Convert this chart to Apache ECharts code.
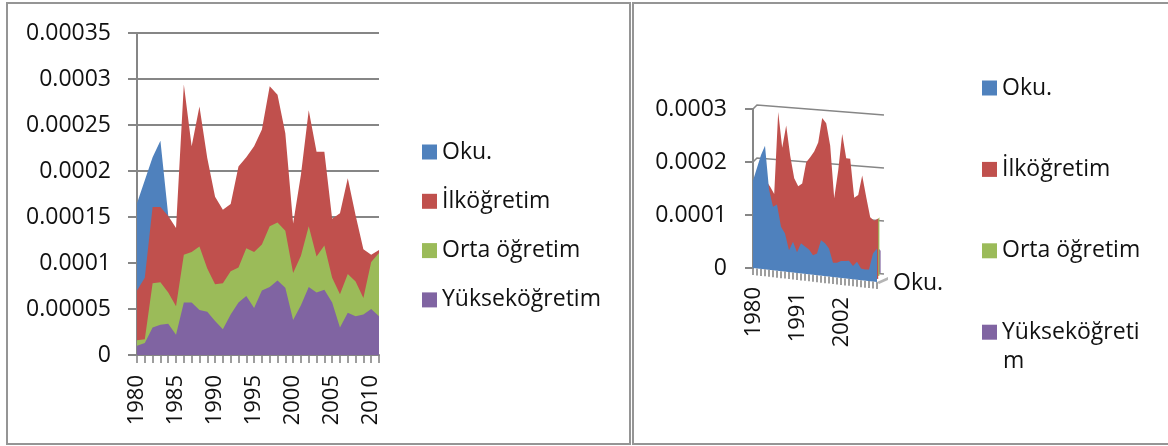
<!DOCTYPE html>
<html><head><meta charset="utf-8">
<style>html,body{margin:0;padding:0;background:#fff}#c{width:1168px;height:446px}</style>
<script src="https://cdn.jsdelivr.net/npm/echarts@6/dist/echarts.min.js"></script>
</head><body><div id="c"></div>
<script>
const years = [];
for (let y = 1980; y <= 2011; y++) years.push(y);
const names = ['Oku.', 'İlköğretim', 'Orta öğretim', 'Yükseköğretim'];
const colors = ['#4F81BD', '#C0504D', '#9BBB59', '#8064A2'];
// values in units of 1e-5
const oku = [16.5,19,21.5,23.3,15.2,12,12.5,8.4,7.2,4.1,5.8,3.9,5.7,5.15,4.7,3.7,4.1,6.7,6.2,5.3,2.7,2.8,3.2,3.3,3.4,2.5,3.4,2.2,2.1,2.2,5.3,6.3];
const ilk = [7.0,8.4,16.1,16.1,15.1,13.8,29.4,22.7,27.0,21.4,17.2,15.8,16.4,20.5,21.5,22.7,24.5,29.2,28.3,24.1,14.3,19.6,26.6,22.1,22.1,14.8,15.4,19.2,15.2,11.5,10.9,11.4];
const orta = [1.6,1.7,7.8,7.9,6.8,5.3,10.9,11.2,11.8,9.4,7.7,7.8,9.1,9.5,11.6,11.2,12.0,14.0,14.4,13.5,8.9,10.8,14.0,10.7,11.9,8.4,6.6,8.8,8.0,6.2,10.1,11.1];
const yuk = [1.0,1.3,3.0,3.3,3.4,2.2,5.7,5.7,4.9,4.7,3.7,2.8,4.4,5.7,6.4,5.1,7.0,7.4,8.1,7.3,3.8,5.4,7.4,6.8,7.1,5.7,3.0,4.6,4.2,4.4,5.0,4.2];
const seriesData = [oku, ilk, orta, yuk].map(a => a.map(v => +(v * 1e-5).toFixed(7)));
const rightGrid = [0,0.0001,0.0002,0.0003];
const rightLabels = ['1980','1991','2002'];
const FONT = 'Open Sans';
const INK = '#111';
const GREY = '#868686';
const BORDER = '#959595';

const fmt = v => v === 0 ? '0' : String(+v.toFixed(5));

const leftSeries = names.map((n,i) => ({
  name:n, type:'line', xAxisIndex:0, yAxisIndex:0, symbol:'none',
  silent:true, z:2+i,
  lineStyle:{width:0}, itemStyle:{color:colors[i]},
  areaStyle:{color:colors[i], opacity:1},
  data: years.map((y,k)=>[String(y),seriesData[i][k]])
}));

// perspective helpers for the sheared right-hand chart
const SLOPE = 14/31, DX = 1.2, DY = -3;
function shear(api, yr, v, row){
  const c = api.coord([String(yr), v]);
  const t = yr-1980;
  return [c[0]+row*DX, c[1]+t*SLOPE+row*DY];
}
function wall(api, yr, v){
  const c = api.coord([String(yr), v]);
  const t = (yr-1980)/31;
  return [c[0]+4+3*t, c[1]-4+10*t];
}
const rightSeries = names.map((n,i)=>({i,n})).reverse().map(({i,n})=>({
  name:n, type:'custom', xAxisIndex:1, yAxisIndex:1, silent:true, z:10-i, clip:false,
  itemStyle:{color:colors[i]},
  data: years.map((y,k)=>[String(y),seriesData[i][k]]),
  renderItem(params, api){
    if (params.dataIndex !== 0) return null;
    const row = i, pts = [];
    years.forEach((y,k)=>pts.push(shear(api,y,seriesData[i][k],row)));
    pts.push(shear(api,2011,0,row));
    pts.push(shear(api,1980,0,row));
    return {type:'polygon', shape:{points:pts}, style:{fill:colors[i]}};
  }
}));

const wallSeries = {
  type:'custom', xAxisIndex:1, yAxisIndex:1, silent:true, z:1, clip:false,
  data: rightGrid.map(v=>['1980',v]),
  renderItem(params, api){
    const v = api.value(1);
    const a = wall(api,1980,v), b = wall(api,2011,v), left = api.coord(['1980',v]);
    return {type:'polyline', shape:{points:[left,a,b]}, style:{stroke:GREY, lineWidth:1.6, fill:null}};
  }
};
const floorSeries = {
  type:'custom', xAxisIndex:1, yAxisIndex:1, silent:true, z:12, clip:false,
  data: years.map(y=>[String(y),0]),
  renderItem(params, api){
    const yr = years[params.dataIndex];
    const p = shear(api,yr,0,0);
    const kids = [{type:'line', shape:{x1:p[0],y1:p[1],x2:p[0],y2:p[1]+7}, style:{stroke:GREY,lineWidth:1.6}}];
    if (rightLabels.includes(String(yr))) kids.push({type:'text', rotation:Math.PI/2, x:p[0]+1, y:p[1]+19,
      style:{text:String(yr), font:'22px "'+FONT+'"', fill:INK, align:'right', verticalAlign:'middle'}});
    if (yr===2011) kids.push({type:'polygon', shape:{points:[[p[0],p[1]],[p[0]+11,p[1]-5],[p[0]+11,p[1]-2],[p[0]+2,p[1]+2]]}, style:{fill:'#b5b5b5'}});
    return {type:'group', children:kids};
  }
};

const legendText = {fontFamily:FONT,fontSize:23,lineHeight:22,color:INK};
const chart = echarts.init(document.getElementById('c'), null, {renderer:'canvas'});
chart.setOption({
  animation:false,
  backgroundColor:'#fff',
  textStyle:{fontFamily:FONT},
  legend:[
    {left:422, top:140.5, padding:0, orient:'vertical', itemWidth:15, itemHeight:15, itemGap:26.3, icon:'rect', selectedMode:false,
     textStyle:legendText, data:names},
    {left:982, top:76.5, padding:0, orient:'vertical', itemWidth:15, itemHeight:15, itemGap:58.4, icon:'rect', selectedMode:false,
     textStyle:legendText, formatter:n=>n==='Yükseköğretim'?'Yükseköğreti':n, data:names}
  ],
  grid:[
    {left:137, top:33, width:242, height:322},
    {left:753, top:109, width:124, height:159}
  ],
  xAxis:[
    {type:'category', gridIndex:0, boundaryGap:false, data:years.map(String),
     axisLine:{lineStyle:{color:GREY,width:2}}, axisTick:{interval:0,length:8,lineStyle:{color:GREY,width:1.6}},
     axisLabel:{interval:4,rotate:90,margin:20,padding:[3,0,0,0],fontFamily:FONT,fontSize:22,color:INK,hideOverlap:false},
     splitLine:{show:false}},
    {type:'category', gridIndex:1, boundaryGap:false, data:years.map(String), show:false}
  ],
  yAxis:[
    {type:'value', gridIndex:0, min:0, max:0.00035, interval:0.00005,
     axisLine:{show:true,lineStyle:{color:GREY,width:2}}, axisTick:{show:true,length:9,lineStyle:{color:GREY,width:2}},
     axisLabel:{margin:26,padding:[4,0,0,0],fontFamily:FONT,fontSize:23,color:INK,formatter:fmt},
     splitLine:{show:true,lineStyle:{color:GREY,width:2}}},
    {type:'value', gridIndex:1, min:0, max:0.0003, interval:0.0001,
     axisLine:{show:true,lineStyle:{color:GREY,width:2}}, axisTick:{show:true,length:8,lineStyle:{color:GREY,width:2}},
     axisLabel:{margin:26,padding:[4,0,0,0],fontFamily:FONT,fontSize:23,color:INK,formatter:fmt},
     splitLine:{show:false}}
  ],
  series:[...leftSeries, wallSeries, ...rightSeries, floorSeries],
  graphic:[
    {type:'rect', shape:{x:7,y:3,width:623,height:441}, style:{fill:'none',stroke:BORDER,lineWidth:2}},
    {type:'rect', shape:{x:633,y:3,width:545,height:441}, style:{fill:'none',stroke:BORDER,lineWidth:2}},
    {type:'text', x:893, y:272, style:{text:'Oku.', font:'23px "'+FONT+'"', fill:INK}},
    {type:'text', x:1003, y:350, style:{text:'m', font:'23px "'+FONT+'"', fill:INK}}
  ]
});
</script></body></html>
